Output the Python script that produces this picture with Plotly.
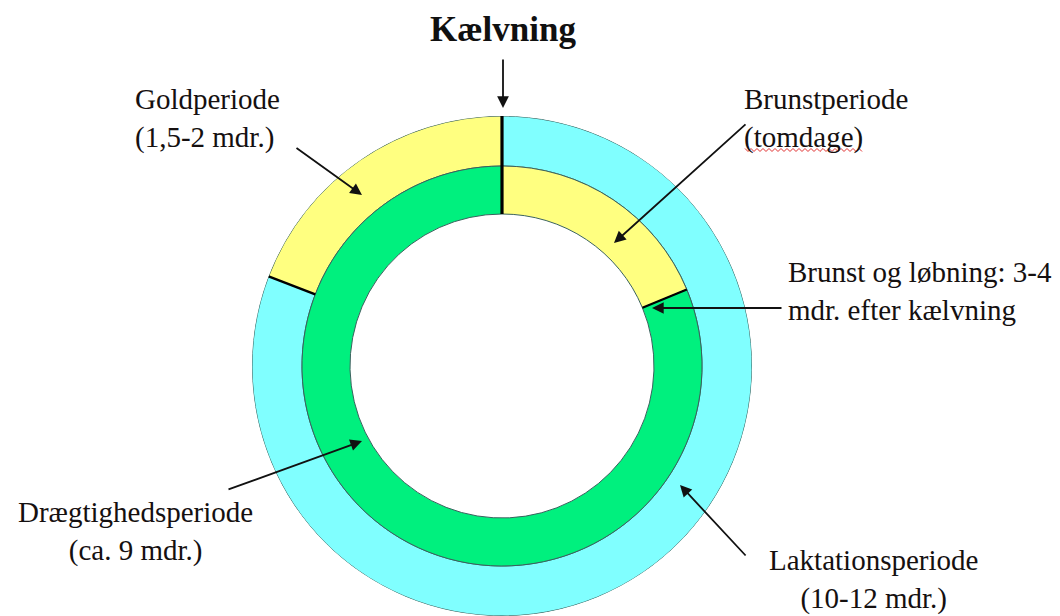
import plotly.graph_objects as go

# ---------------- data (months of the yearly cycle) ----------------
outer_labels = ["Laktationsperiode", "Goldperiode"]
outer_months = [9.7, 2.3]
inner_labels = ["Brunstperiode", "Drægtighedsperiode"]
inner_months = [2.25, 9.75]

label_texts = [
    "Kælvning",
    "Goldperiode<br>(1,5-2 mdr.)",
    "Brunstperiode<br>(tomdage)",
    "Brunst og løbning: 3-4<br>mdr. efter kælvning",
    "Drægtighedsperiode<br>(ca. 9 mdr.)",
    "Laktationsperiode<br>(10-12 mdr.)",
]

# ---------------- styles / geometry ----------------
W, H = 1060, 616
CX, CY = 502, 366          # centre of the rings (pixels from top-left)
R_OUT, R_MID, R_HOLE = 250, 200, 152
CYAN, YELLOW, GREEN = "#80FFFF", "#FFFF80", "#00F07E"
EDGE = "#3a625e"
FONT = "Liberation Serif"
TXT = "#151010"

outer_colors = [CYAN, YELLOW]
inner_colors = [YELLOW, GREEN]
DEG_PER_MONTH = 360.0 / 12.0


def ring_geometry(months):
    widths, centers, bounds = [], [], []
    start = 0.0
    for m in months:
        w = m * DEG_PER_MONTH
        widths.append(w)
        centers.append(start + w / 2)
        start += w
        bounds.append(start)
    return widths, centers, bounds


fig = go.Figure()

ow, oc, ob = ring_geometry(outer_months)
iw, ic, ib = ring_geometry(inner_months)

fig.add_trace(go.Barpolar(
    theta=oc, width=ow, r=[R_OUT - R_MID] * len(ow), base=[R_MID] * len(ow),
    marker=dict(color=outer_colors, line=dict(color=EDGE, width=1)),
    text=outer_labels, hoverinfo="text", showlegend=False,
))
fig.add_trace(go.Barpolar(
    theta=ic, width=iw, r=[R_MID - R_HOLE] * len(iw), base=[R_HOLE] * len(iw),
    marker=dict(color=inner_colors, line=dict(color=EDGE, width=1)),
    text=inner_labels, hoverinfo="text", showlegend=False,
))

# black boundary lines
fig.add_trace(go.Scatterpolar(theta=[0, 0], r=[R_HOLE, R_OUT], mode="lines",
                              line=dict(color="black", width=3.2), hoverinfo="skip", showlegend=False))
fig.add_trace(go.Scatterpolar(theta=[ob[0], ob[0]], r=[R_MID, R_OUT], mode="lines",
                              line=dict(color="black", width=2.5), hoverinfo="skip", showlegend=False))
fig.add_trace(go.Scatterpolar(theta=[ib[0], ib[0]], r=[R_HOLE, R_MID], mode="lines",
                              line=dict(color="black", width=2.2), hoverinfo="skip", showlegend=False))


def px(x):
    return x / W


def py(y):
    return 1 - y / H


annotations = []
annotations.append(dict(x=px(503), y=py(30), xref="paper", yref="paper", text="<b>" + label_texts[0] + "</b>",
                        showarrow=False, xanchor="center", yanchor="middle",
                        font=dict(family=FONT, size=35, color="#101010")))
text_pos = [
    (1, 133, 118, "left", "left"),
    (2, 742, 119, "left", "left"),
    (3, 786, 291, "left", "left"),
    (4, 135, 531, "center", "center"),
    (5, 873, 579, "center", "center"),
]
for idx, x, y, xa, al in text_pos:
    annotations.append(dict(x=px(x), y=py(y), xref="paper", yref="paper", text=label_texts[idx],
                            showarrow=False, xanchor=xa, yanchor="middle", align=al,
                            font=dict(family=FONT, size=29, color=TXT)))

arrows = [
    (503, 58, 503, 108),
    (295, 147, 362, 195),
    (747, 123, 614, 243),
    (783, 308, 652, 308),
    (227, 490, 362, 441),
    (747, 557, 680, 485),
]
for tx, ty, hx, hy in arrows:
    annotations.append(dict(x=px(hx), y=py(hy), xref="paper", yref="paper", text="",
                            showarrow=True, ax=tx - hx, ay=ty - hy,
                            arrowhead=2, arrowsize=1.3, arrowwidth=1.8, arrowcolor="#111111",
                            standoff=0))

# red wavy spell-check underline under "tomdage"
wave_x0, wave_x1, wave_y = 745, 862, 150
pts = []
step = 3
i = 0
x = wave_x0
while x <= wave_x1:
    pts.append((x, wave_y + (1.5 if i % 2 else -1.5)))
    x += step
    i += 1
path = "M " + " L ".join(f"{px(a):.5f},{py(b):.5f}" for a, b in pts)

fig.update_layout(
    width=W, height=H,
    margin=dict(l=0, r=0, t=0, b=0),
    paper_bgcolor="white", plot_bgcolor="white",
    showlegend=False,
    polar=dict(
        domain=dict(x=[(CX - R_OUT) / W, (CX + R_OUT) / W],
                    y=[(H - CY - R_OUT) / H, (H - CY + R_OUT) / H]),
        bgcolor="rgba(0,0,0,0)",
        bargap=0,
        radialaxis=dict(visible=False, range=[0, R_OUT], showgrid=False),
        angularaxis=dict(visible=False, direction="clockwise", rotation=90, showgrid=False),
    ),
    annotations=annotations,
    shapes=[dict(type="path", xref="paper", yref="paper", path=path,
                 line=dict(color="#e03030", width=1))],
)

fig.write_html("out.html", post_script="document.body.style.margin='0';",
               config={"displayModeBar": False})
